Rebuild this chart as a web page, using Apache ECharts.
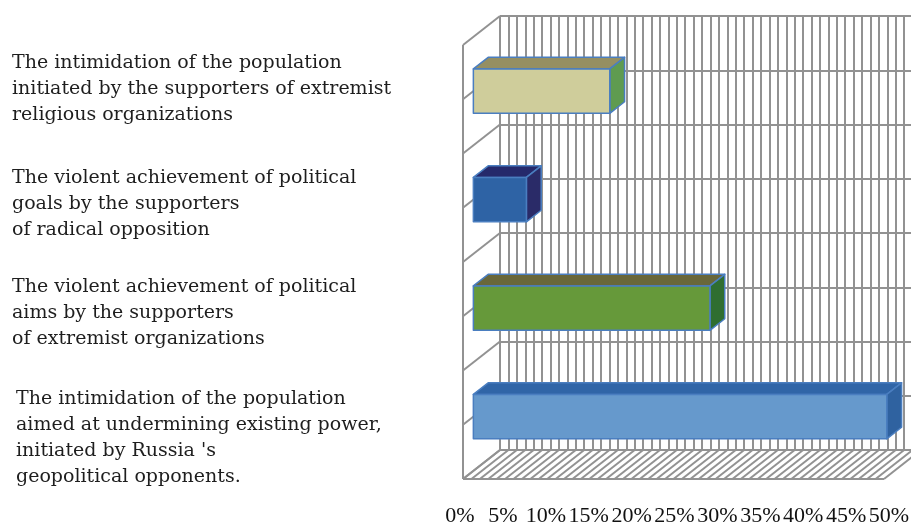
<!DOCTYPE html>
<html>
<head>
<meta charset="utf-8">
<script src="https://cdn.jsdelivr.net/npm/echarts@6/dist/echarts.min.js"></script>
<style>
html, body { margin: 0; padding: 0; background: #fff; }
#chartDiv { width: 911px; height: 524px; }
</style>
</head>
<body>
<div id="chartDiv"></div>
<script>
// data
const categories = [
	'The intimidation of the population\ninitiated by the supporters of extremist\nreligious organizations',
	'The violent achievement of political\ngoals by the supporters\nof radical opposition',
	'The violent achievement of political\naims by the supporters\nof extremist organizations',
	'The intimidation of the population\naimed at undermining existing power,\ninitiated by Russia \'s\ngeopolitical opponents.'
];
const shares = [16.2, 6.3, 28.1, 49.1];
const tickLabels = ['0%', '5%', '10%', '15%', '20%', '25%', '30%', '35%', '40%', '45%', '50%'];

// faces of each bar: front, top, side
const barColors = [
	['#cfcd9b', '#958f62', '#5f9b50'],
	['#2e63a5', '#25296b', '#2a2b68'],
	['#66993a', '#69673a', '#2f6e31'],
	['#6699cc', '#3065a7', '#2f62a0']
];
const labelPos = [[12, 50], [12, 165], [12, 274], [16, 386]];

// fake 3d: depth offset of the front plane from the back wall
const DX = -37, DY = 29;
const FRONT = 0.72, BACK = 0.32;
const proj = (p, d) => [p[0] + DX * d, p[1] + DY * d];
const gridColor = '#929292';

let chart = echarts.init(document.getElementById('chartDiv'));

let option = {
	animation: false,
	grid: [
		{ left: 500, top: 16, width: 421, height: 434, outerBoundsMode: 'none' },   // back wall
		{ left: 460, top: 46, width: 429, height: 434, outerBoundsMode: 'none' }    // front edge, only for labels
	],
	xAxis: [{
		type: 'value', gridIndex: 0, min: 0, max: 50, interval: 1,
		axisLine: { show: false }, axisTick: { show: false }, axisLabel: { show: false },
		splitLine: { show: true, lineStyle: { color: gridColor, width: 2 } }
	}, {
		type: 'value', gridIndex: 1, min: 0, max: 50, interval: 5,
		axisLine: { show: false }, axisTick: { show: false }, splitLine: { show: false },
		axisLabel: {
			margin: 25,
			color: '#111',
			fontFamily: 'Liberation Serif',
			fontSize: 22,
			formatter: (v) => tickLabels[Math.round(v / 5)]
		}
	}],
	yAxis: [{
		type: 'value', gridIndex: 0, min: 0, max: 4, interval: 0.5, inverse: true,
		axisLine: { show: false }, axisTick: { show: false }, axisLabel: { show: false },
		splitLine: { show: true, lineStyle: { color: gridColor, width: 2 } }
	}, {
		type: 'value', gridIndex: 1, min: 0, max: 4, show: false
	}],
	graphic: categories.map((c, i) => ({
		type: 'text',
		x: labelPos[i][0],
		y: labelPos[i][1],
		style: {
			text: c,
			font: '19px "DejaVu Serif"',
			fill: '#1e1e1e',
			lineHeight: 26,
			align: 'left',
			verticalAlign: 'top'
		}
	})),
	series: [{
		// left wall and floor
		type: 'custom',
		xAxisIndex: 0, yAxisIndex: 0,
		silent: true,
		clip: false,
		z: 1,
		data: [[0, 0]],
		renderItem: (params, api) => {
			const ls = { stroke: gridColor, lineWidth: 2 };
			const children = [];
			const line = (a, b) => children.push({ type: 'line', shape: { x1: a[0], y1: a[1], x2: b[0], y2: b[1] }, style: ls });
			for (let k = 0; k <= 50; k++) {
				const p = api.coord([k, 4]);
				line(p, proj(p, 1));
			}
			for (let k = 0; k <= 8; k++) {
				const p = api.coord([0, k / 2]);
				line(p, proj(p, 1));
			}
			line(proj(api.coord([0, 0]), 1), proj(api.coord([0, 4]), 1));
			line(proj(api.coord([0, 4]), 1), proj(api.coord([50, 4]), 1));
			return { type: 'group', children: children };
		}
	}, {
		// bars
		type: 'custom',
		xAxisIndex: 0, yAxisIndex: 0,
		clip: false,
		z: 3,
		data: shares.map((v, i) => [v, i + 0.5]),
		renderItem: (params, api) => {
			const v = api.value(0), c = api.value(1);
			const h = api.size([0, 1])[1] * 0.41;
			const p0 = api.coord([0, c]), p1 = api.coord([v, c]);
			const top = p0[1] - h / 2, bot = p0[1] + h / 2;
			const x0 = p0[0], x1 = p1[0];
			const col = barColors[params.dataIndex];
			const edge = { stroke: '#4a7ec0', lineWidth: 1.5, lineJoin: 'round' };
			const face = (pts, fill) => ({ type: 'polygon', shape: { points: pts }, style: Object.assign({ fill: fill }, edge) });
			return {
				type: 'group',
				children: [
					face([proj([x0, top], BACK), proj([x1, top], BACK), proj([x1, top], FRONT), proj([x0, top], FRONT)], col[1]),
					face([proj([x1, top], BACK), proj([x1, bot], BACK), proj([x1, bot], FRONT), proj([x1, top], FRONT)], col[2]),
					face([proj([x0, top], FRONT), proj([x1, top], FRONT), proj([x1, bot], FRONT), proj([x0, bot], FRONT)], col[0])
				]
			};
		}
	}]
};
chart.setOption(option);
</script>
</body>
</html>
